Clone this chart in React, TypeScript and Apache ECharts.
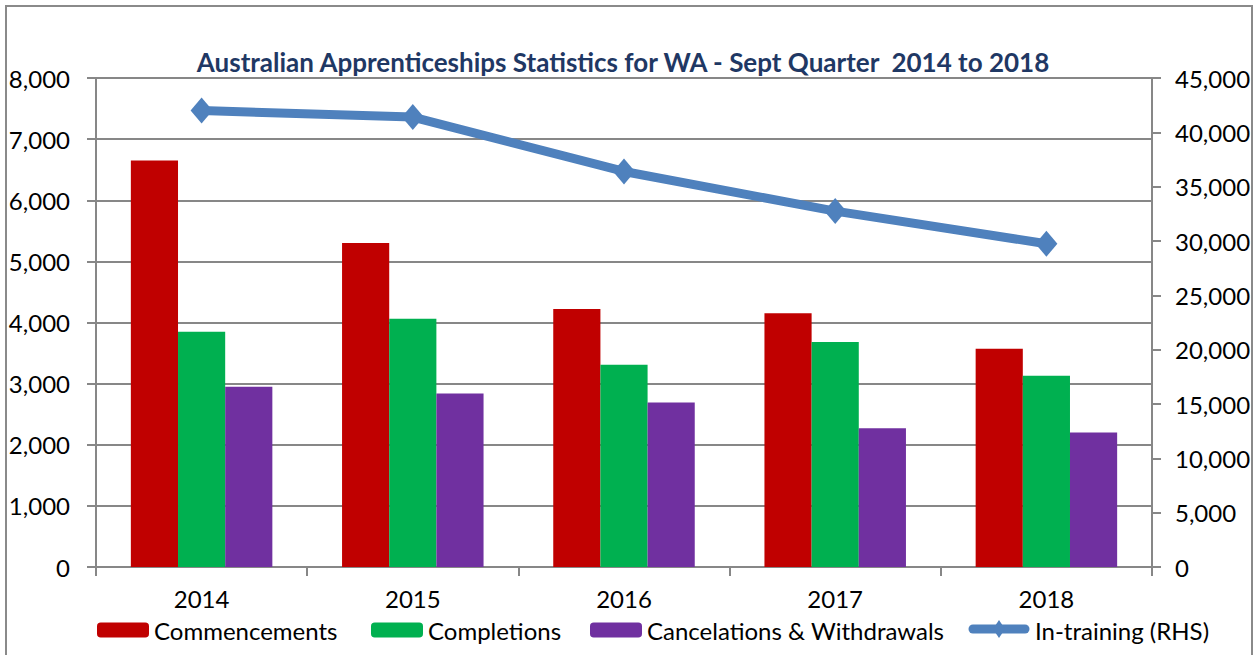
import React, { useEffect, useRef } from "react";
import * as echarts from "echarts";

const years = ["2014", "2015", "2016", "2017", "2018"];
const commencements = [6650, 5300, 4220, 4150, 3570];
const completions = [3850, 4060, 3310, 3680, 3130];
const cancelations = [2950, 2840, 2690, 2270, 2200];
const inTraining = [42000, 41400, 36400, 32750, 29750];

const seriesNames = ["Commencements", "Completions", "Cancelations & Withdrawals", "In-training (RHS)"];
const titleText = "Australian Apprenticeships Statistics for WA - Sept Quarter  2014 to 2018";
const FONT = "Lato, 'Noto Sans', sans-serif";
const fmt = (v: number) => v.toLocaleString("en-US");

export default function App() {
  const ref = useRef<HTMLDivElement>(null);
  useEffect(() => {
    if (!ref.current) return;
    const chart = echarts.init(ref.current, null, { renderer: "svg" });
    const gray = "#878787";
    const legendLefts = [92, 366, 585, 969];
    const legends = seriesNames.map((n, i) => ({
      left: legendLefts[i],
      top: 613,
      itemWidth: i === 3 ? 60 : 52,
      itemHeight: 15,
      itemGap: 0,
      textStyle: { fontFamily: FONT, fontSize: 24, color: "#000", padding: i === 3 ? [0, 0, 0, -4] : [0, 0, 0, 0] },
      data: [
        i === 3
          ? { name: n, icon: "none" }
          : { name: n },
      ],
    }));
    chart.setOption({
      animation: false,
      backgroundColor: "#ffffff",
      textStyle: { fontFamily: FONT },
      title: {
        text: titleText,
        left: 618,
        textAlign: "center",
        top: 44,
        textStyle: { fontFamily: FONT, fontWeight: "bold", fontSize: 26, color: "#1F3864" },
      },
      graphic: [
        {
          type: "rect",
          shape: { x: 6, y: 6, width: 1246, height: 660 },
          style: { fill: "none", stroke: "#8a8a8a", lineWidth: 2 },
          silent: true,
        },
        {
          type: "line",
          shape: { x1: 973, y1: 629, x2: 1025, y2: 629 },
          style: { stroke: "#4F81BD", lineWidth: 9, lineCap: "round" },
          silent: true,
        },
        {
          type: "polygon",
          shape: { points: [[999, 620], [1005, 629], [999, 638], [993, 629]] },
          style: { fill: "#4F81BD" },
          silent: true,
        },
      ],
      legend: legends,
      grid: { left: 96, right: 103, top: 78, bottom: 88, containLabel: false },
      xAxis: {
        type: "category",
        data: years,
        boundaryGap: true,
        axisLine: { lineStyle: { color: gray, width: 2 } },
        axisTick: { show: true, length: 9, lineStyle: { color: gray, width: 2 } },
        axisLabel: { fontFamily: FONT, fontSize: 24, color: "#000", margin: 19 },
      },
      yAxis: [
        {
          type: "value",
          min: 0,
          max: 8000,
          interval: 1000,
          axisLine: { show: true, lineStyle: { color: gray, width: 2 } },
          axisTick: { show: true, length: 9, lineStyle: { color: gray, width: 2 } },
          splitLine: { show: true, lineStyle: { color: gray, width: 2 } },
          axisLabel: { fontFamily: FONT, fontSize: 24, color: "#000", margin: 26, formatter: fmt },
        },
        {
          type: "value",
          min: 0,
          max: 45000,
          interval: 5000,
          position: "right",
          axisLine: { show: true, lineStyle: { color: gray, width: 2 } },
          axisTick: { show: true, length: 9, lineStyle: { color: gray, width: 2 } },
          splitLine: { show: false },
          axisLabel: { fontFamily: FONT, fontSize: 24, color: "#000", margin: 23, formatter: fmt },
        },
      ],
      series: [
        {
          name: seriesNames[0],
          type: "bar",
          data: commencements,
          itemStyle: { color: "#C00000" },
          barGap: "0%",
          barCategoryGap: "33%",
        },
        {
          name: seriesNames[1],
          type: "bar",
          data: completions,
          itemStyle: { color: "#00B050" },
        },
        {
          name: seriesNames[2],
          type: "bar",
          data: cancelations,
          itemStyle: { color: "#7030A0" },
        },
        {
          name: seriesNames[3],
          type: "line",
          yAxisIndex: 1,
          data: inTraining,
          symbol: "diamond",
          symbolSize: [22, 26],
          lineStyle: { color: "#4F81BD", width: 9 },
          itemStyle: { color: "#4F81BD" },
        },
      ],
    });
    return () => chart.dispose();
  }, []);
  return (
    <div
      ref={ref}
      style={{ position: "absolute", left: 0, top: 0, width: 1255, height: 655 }}
    />
  );
}
